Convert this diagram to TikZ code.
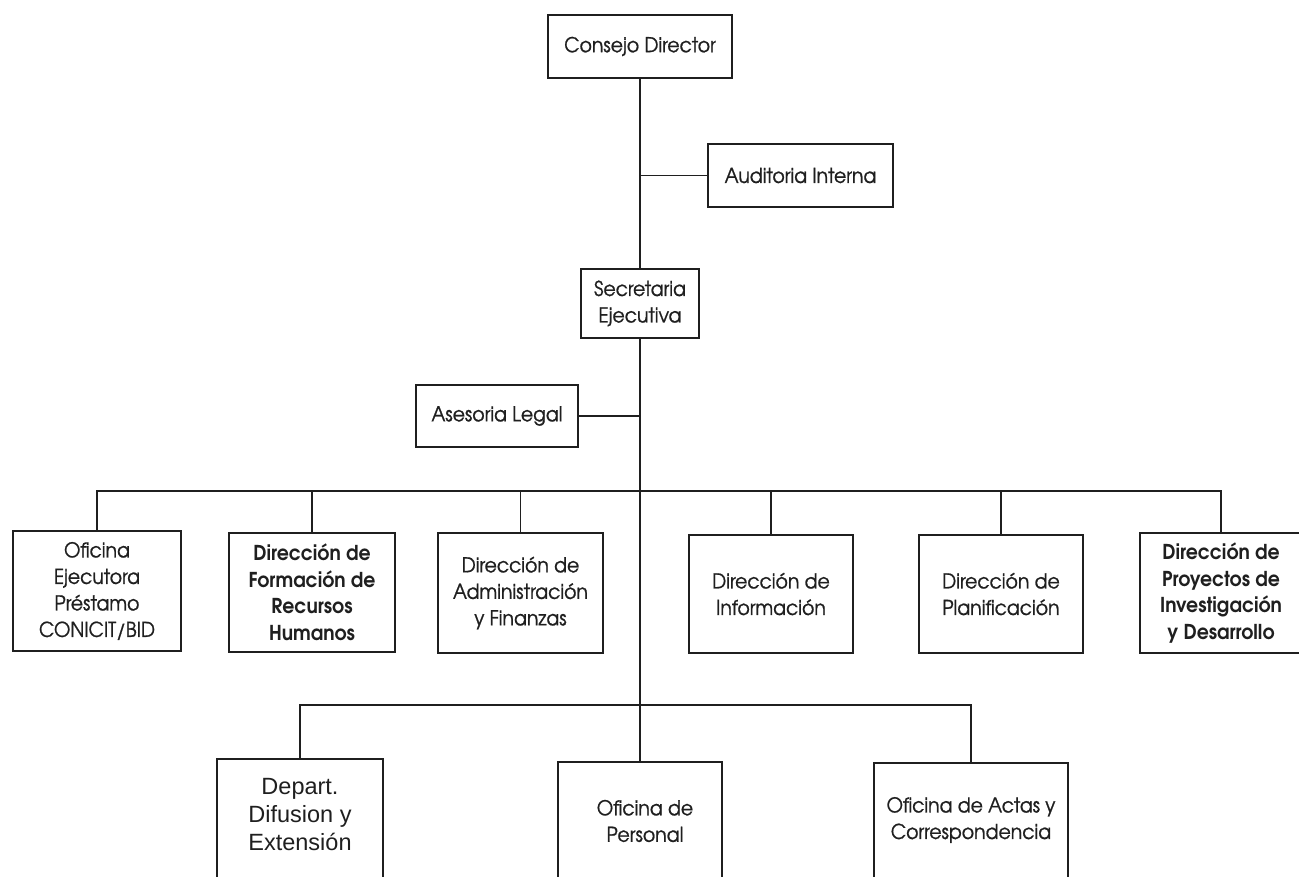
\documentclass[tikz,border=0pt]{standalone}
\usepackage{fontspec}
\setmainfont{texgyreadventor}[Extension=.otf, UprightFont=*-regular, BoldFont=*-bold,
  FakeStretch=0.92, UprightFeatures={FakeBold=0.9}]
\newfontfamily\arialf{Liberation Sans}
\begin{document}
\begin{tikzpicture}[x=1pt,y=-1pt,
  box/.style={draw=black!88, line width=1.8pt, inner sep=0pt, align=center, text=black!88,
    font=\fontsize{20.5}{26.5}\selectfont},
  bbold/.style={box, font=\fontsize{20.5}{26.5}\selectfont\bfseries},
  plain/.style={inner sep=0pt, align=center, text=black!88, font=\fontsize{20.5}{26.5}\selectfont},
  conn/.style={draw=black!88, line width=1.8pt}]
\clip (0,0) rectangle (1299,877);
\fill[white] (0,0) rectangle (1299,877);
% top
\node[box, minimum width=184pt, minimum height=63pt] (cd) at (640,46.5) {Consejo Director};
\node[box, minimum width=185pt, minimum height=63pt] (ai) at (800.5,175.5) {Auditoria Interna};
\node[box, minimum width=118pt, minimum height=69pt] (se) at (640,303.5) {Secretaria\\Ejecutiva};
\node[box, minimum width=162pt, minimum height=62pt] (al) at (497,416) {Asesoria Legal};
% row 1
\node[box, minimum width=168pt, minimum height=120pt] (b1) at (97,591) {Oficina\\Ejecutora\\Préstamo\\CONICIT/BID};
\node[bbold, minimum width=166pt, minimum height=119pt] (b2) at (312,592.5) {Dirección de\\Formación de\\Recursos\\Humanos};
\node[box, minimum width=165pt, minimum height=120pt] (b3) at (520.5,593) {Dirección de\\Administración\\y Finanzas};
\node[box, minimum width=164pt, minimum height=118pt] (b4) at (771,594) {Dirección de\\Información};
\node[box, minimum width=164pt, minimum height=118pt] (b5) at (1001,594) {Dirección de\\Planificación};
\node[bbold, minimum width=162pt, minimum height=120pt] (b6) at (1221,593) {Dirección de\\Proyectos de\\Investigación\\y Desarrollo};
% row 2 (boxes run past the lower edge)
\node[box, minimum width=166pt, minimum height=180pt] (b7) at (300,849) {};
\node[plain, font=\arialf\fontsize{23.5}{28}\selectfont] (b7t) at (300,815) {Depart.\\Difusion y\\Extensión};
\node[box, minimum width=164pt, minimum height=180pt] (b8) at (640,852) {};
\node[plain] (b8t) at (645,821) {Oficina de\\Personal};
\node[box, minimum width=194pt, minimum height=180pt] (b9) at (971,853) {};
\node[plain] (b9t) at (971,820) {Oficina de Actas y\\Correspondencia};
% connectors
\coordinate (bus) at (640,491);
\coordinate (bus2) at (640,705);
\draw[conn] (cd.south) -- (se.north);
\draw[conn] (se.south) -- (b8.north);
\draw[conn] (ai.west) -- (cd.south |- ai.west);
\draw[conn] (al.east) -- (se.south |- al.east);
\draw[conn] (b1.north) |- (bus) -| (b6.north);
\foreach \n in {b2,b3,b4,b5} \draw[conn] (\n.north) -- (\n.north |- bus);
\draw[conn] (b7.north) |- (bus2) -| (b9.north);
\end{tikzpicture}
\end{document}
